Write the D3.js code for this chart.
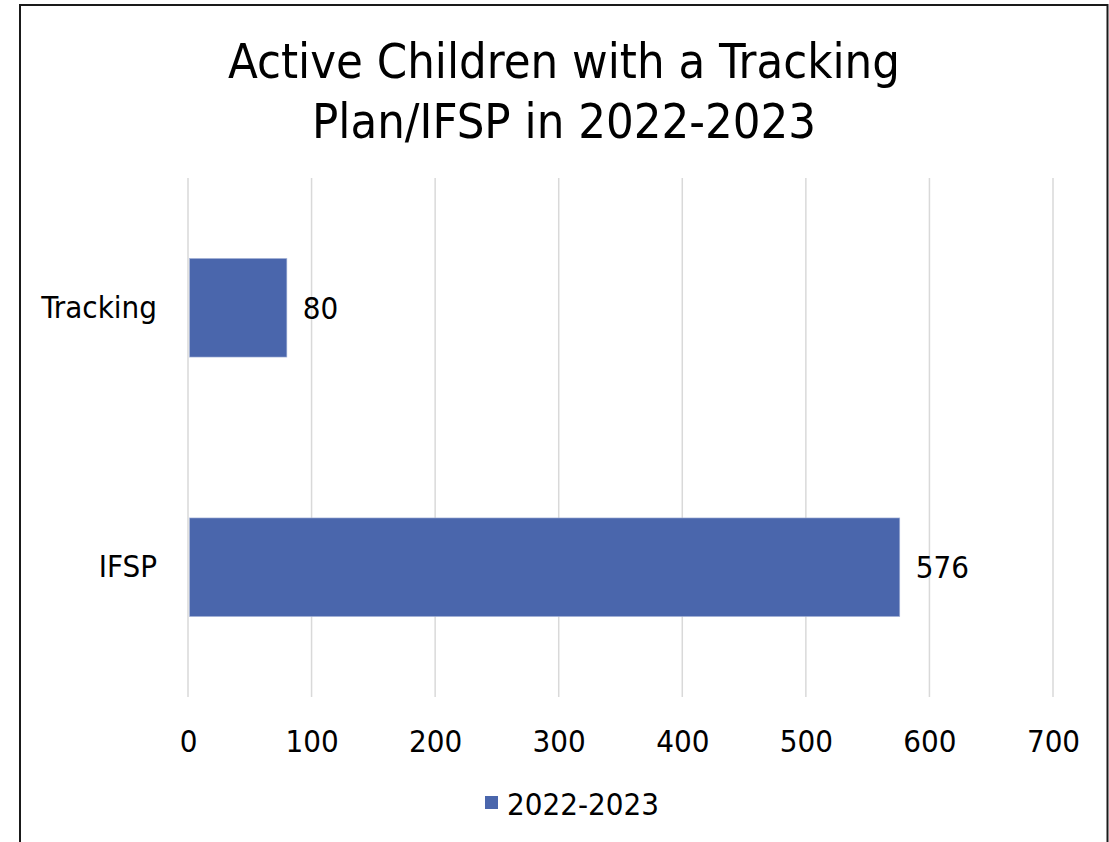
<!DOCTYPE html>
<html>
<head>
<meta charset="utf-8">
<script src="https://cdn.jsdelivr.net/npm/d3@7/dist/d3.min.js"></script>
<style>
  html, body { margin: 0; padding: 0; background: #fff; }
  svg { display: block; }
  text { font-family: "DejaVu Sans Condensed", "DejaVu Sans", sans-serif; fill: #000; }
</style>
</head>
<body>
<svg id="chart" width="1109" height="842"></svg>
<script>
const titleLines = ["Active Children with a Tracking", "Plan/IFSP in 2022-2023"];
const categories = ["Tracking", "IFSP"];
const seriesName = "2022-2023";
const seriesValues = [80, 576];
const xTicks = [0, 100, 200, 300, 400, 500, 600, 700];

const W = 1109, H = 842;
const FS = 31;
const svg = d3.select("#chart");
svg.append("rect").attr("width", W).attr("height", H).attr("fill", "#fff");
svg.append("rect").attr("x", 20).attr("y", 5).attr("width", 1087.5).attr("height", 900)
  .attr("fill", "none").attr("stroke", "#1a1a1a").attr("stroke-width", 2);

const plot = { left: 188, right: 1053, top: 178, bottom: 697 };
const x = d3.scaleLinear().domain([0, 700]).range([plot.left, plot.right]);
const y = d3.scaleBand().domain(categories).range([plot.top, plot.bottom])
  .paddingInner(0.62).paddingOuter(0.31);

// title
const title = svg.append("text").attr("text-anchor", "middle").attr("font-size", 48.5);
titleLines.forEach((t, i) => {
  title.append("tspan").attr("x", 564).attr("y", 78 + i * 60).text(t);
});

// gridlines
svg.append("g").selectAll("line").data(xTicks).join("line")
  .attr("x1", d => x(d)).attr("x2", d => x(d))
  .attr("y1", plot.top).attr("y2", plot.bottom)
  .attr("stroke", "#d9d9d9").attr("stroke-width", 1.5);

// x axis labels via d3 axis
const xAxis = d3.axisBottom(x).tickValues(xTicks).tickSize(0).tickPadding(0).tickFormat(d3.format("d"));
const gx = svg.append("g").attr("transform", `translate(0,${plot.bottom})`).call(xAxis);
gx.select(".domain").remove();
gx.selectAll("text").attr("font-size", FS).attr("font-family", null).attr("fill", "#000")
  .attr("dy", null).attr("y", 55);

// y axis labels
const yAxis = d3.axisLeft(y).tickSize(0).tickPadding(0);
const gy = svg.append("g").attr("transform", `translate(157,0)`).call(yAxis);
gy.select(".domain").remove();
gy.selectAll("text").attr("font-size", FS).attr("font-family", null).attr("fill", "#000");

// bars
const data = categories.map((c, i) => ({ c, v: seriesValues[i] }));
svg.append("g").selectAll("rect").data(data).join("rect")
  .attr("x", x(0) + 1.5).attr("y", d => y(d.c))
  .attr("width", d => x(d.v) - x(0) - 1.5).attr("height", y.bandwidth())
  .attr("fill", "#4a66ac").attr("stroke", "#a8b6d8").attr("stroke-width", 0.6);

// value labels
svg.append("g").selectAll("text").data(data).join("text")
  .attr("x", d => x(d.v) + 16).attr("y", d => y(d.c) + y.bandwidth() / 2)
  .attr("dy", "0.35em").attr("font-size", FS).text(d => d.v);

// legend
const lg = svg.append("g");
lg.append("rect").attr("x", 485).attr("y", 796).attr("width", 13).attr("height", 13).attr("fill", "#4a66ac");
lg.append("text").attr("x", 507).attr("y", 815).attr("font-size", FS).text(seriesName);
</script>
</body>
</html>
